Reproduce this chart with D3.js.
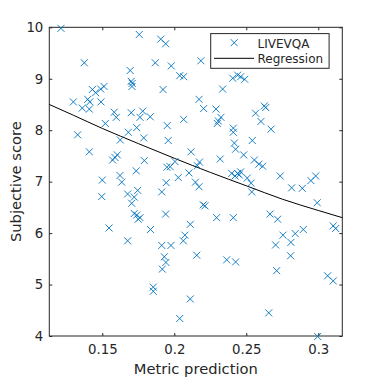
<!DOCTYPE html>
<html>
<head>
<meta charset="utf-8">
<script src="https://cdn.jsdelivr.net/npm/d3@7"></script>
<style>
  body { margin: 0; background: #fff; }
  text { font-family: "DejaVu Sans", sans-serif; fill: #262626; }
</style>
</head>
<body>
<div id="chart"></div>
<script>
// scatter values
var metricPred = [
  0.1213, 0.1757, 0.1906, 0.1940, 0.1375, 0.1868, 0.1979, 0.2185, 0.1694, 0.2038,
  0.2065, 0.1701, 0.1708, 0.1706, 0.1431, 0.1454, 0.1489, 0.1512, 0.1922, 0.1299,
  0.1399, 0.1413, 0.1491, 0.2172, 0.1361, 0.1410, 0.1583, 0.1597, 0.1701, 0.1781,
  0.1762, 0.1833, 0.2065, 0.1521, 0.1739, 0.1951, 0.2204, 0.2406, 0.2440, 0.2461,
  0.2489, 0.2336, 0.2290, 0.2324, 0.2306, 0.2299, 0.2410, 0.2565, 0.2625, 0.2635,
  0.2602, 0.2672, 0.1329, 0.1410, 0.1625, 0.1681, 0.1788, 0.1958, 0.2116, 0.1604,
  0.1588, 0.1572, 0.1792, 0.1736, 0.1949, 0.1972, 0.2005, 0.2175, 0.2102, 0.2028,
  0.1500, 0.1623, 0.1635, 0.1944, 0.2147, 0.2172, 0.1496, 0.1676, 0.1722, 0.1746,
  0.1704, 0.1913, 0.1722, 0.1739, 0.1750, 0.1762, 0.1940, 0.1547, 0.1835, 0.2111,
  0.2074, 0.2410, 0.2417, 0.2542, 0.2426, 0.2482, 0.2319, 0.2161, 0.2556, 0.2588,
  0.2614, 0.2399, 0.2422, 0.2440, 0.2461, 0.2451, 0.2507, 0.2533, 0.2538, 0.2736,
  0.2815, 0.2889, 0.2949, 0.2982, 0.2213, 0.2201, 0.2993, 0.2294, 0.2410, 0.2665,
  0.2718, 0.2755, 0.2840, 0.2896, 0.3104, 0.3121, 0.1676, 0.1913, 0.1977, 0.2063,
  0.2156, 0.1931, 0.1942, 0.1917, 0.1854, 0.1854, 0.2111, 0.2038, 0.2364, 0.2426,
  0.2704, 0.2810, 0.2808, 0.2711, 0.3065, 0.3104, 0.2656, 0.2996
];
var subjScore = [
  9.98, 9.86, 9.77, 9.68, 9.31, 9.31, 9.25, 9.35, 9.16, 9.06,
  9.04, 8.95, 8.91, 8.85, 8.79, 8.73, 8.80, 8.85, 8.79, 8.55,
  8.60, 8.55, 8.55, 8.60, 8.43, 8.41, 8.35, 8.25, 8.34, 8.37,
  8.25, 8.26, 8.21, 8.13, 8.05, 8.09, 8.42, 9.01, 9.07, 9.04,
  8.99, 8.80, 8.41, 8.25, 8.18, 8.13, 8.04, 8.33, 8.47, 8.44,
  8.17, 8.02, 7.91, 7.58, 7.81, 7.96, 7.85, 7.80, 7.58, 7.52,
  7.47, 7.42, 7.41, 7.21, 7.28, 7.29, 7.39, 7.38, 7.17, 7.08,
  7.03, 7.12, 6.99, 6.98, 6.99, 6.90, 6.71, 6.76, 6.70, 6.83,
  6.58, 6.80, 6.38, 6.35, 6.27, 6.30, 6.37, 6.10, 6.07, 6.17,
  5.96, 7.96, 7.75, 7.80, 7.63, 7.52, 7.44, 7.31, 7.42, 7.34,
  7.30, 7.16, 7.11, 7.16, 7.19, 7.13, 7.07, 6.97, 6.80, 7.11,
  6.88, 6.87, 7.02, 7.11, 6.53, 6.55, 6.59, 6.30, 6.30, 6.37,
  6.27, 5.96, 5.99, 6.07, 6.14, 6.09, 5.85, 5.76, 5.76, 5.85,
  5.57, 5.54, 5.43, 5.30, 4.95, 4.87, 4.72, 4.34, 5.48, 5.44,
  5.77, 5.82, 5.56, 5.27, 5.17, 5.07, 4.45, 3.99
];

// fitted regression curve, sampled off the figure
var regX = [0.1132, 0.13, 0.15, 0.175, 0.2, 0.225, 0.25, 0.275, 0.3, 0.3167];
var regY = [8.50, 8.29, 8.035, 7.74, 7.455, 7.18, 6.92, 6.66, 6.44, 6.30];

var xTicks = [0.15, 0.2, 0.25, 0.3];
var xTickLabels = ["0.15", "0.2", "0.25", "0.3"];
var yTicks = [4, 5, 6, 7, 8, 9, 10];

var seriesNames = ["LIVEVQA", "Regression"];

function scatterChart() {

	var width = 378, height = 378;
	var left = 49.3, right = 342.3, top = 27.3, bottom = 336;
	var axisColor = "#262626";
	var blue = "#0072BD";

	var svg = d3.select("#chart").append("svg")
		.attr("width", width).attr("height", height);

	svg.append("rect").attr("width", width).attr("height", height).attr("fill", "#fff");

	var x = d3.scaleLinear().domain([0.1132, 0.3167]).range([left, right]);
	var y = d3.scaleLinear().domain([4, 10]).range([bottom, top]);

	var points = metricPred.map(function(d, i) { return [d, subjScore[i]]; });
	var reg = regX.map(function(d, i) { return [d, regY[i]]; });

	// axes (ticks pointing inwards, mirrored on top / right)
	var xAxis = svg.append("g").attr("transform", "translate(0," + bottom + ")")
		.call(d3.axisBottom(x).tickValues(xTicks)
			.tickFormat(function(d, i) { return xTickLabels[i]; })
			.tickSizeInner(-3).tickSizeOuter(0).tickPadding(9));
	var yAxis = svg.append("g").attr("transform", "translate(" + left + ",0)")
		.call(d3.axisLeft(y).tickValues(yTicks).tickFormat(d3.format("d"))
			.tickSizeInner(-3).tickSizeOuter(0).tickPadding(6));
	var xTop = svg.append("g").attr("transform", "translate(0," + top + ")")
		.call(d3.axisTop(x).tickValues(xTicks).tickFormat("").tickSizeInner(-3).tickSizeOuter(0));
	var yRight = svg.append("g").attr("transform", "translate(" + right + ",0)")
		.call(d3.axisRight(y).tickValues(yTicks).tickFormat("").tickSizeInner(-3).tickSizeOuter(0));

	[xAxis, yAxis, xTop, yRight].forEach(function(g) {
		g.select(".domain").remove();
		g.selectAll("line").attr("stroke", axisColor);
		g.selectAll("text").attr("fill", axisColor)
			.style("font-family", "DejaVu Sans, sans-serif").style("font-size", "13.3px");
	});

	svg.append("rect")
		.attr("x", left).attr("y", top)
		.attr("width", right - left).attr("height", bottom - top)
		.attr("fill", "none").attr("stroke", axisColor).attr("stroke-width", 1);

	// regression line
	var line = d3.line()
		.x(function(d) { return x(d[0]); })
		.y(function(d) { return y(d[1]); })
		.curve(d3.curveMonotoneX);

	svg.append("path").datum(reg)
		.attr("d", line)
		.attr("fill", "none").attr("stroke", "#000").attr("stroke-width", 1);

	// x markers
	var s = 3.5;
	var cross = "M" + (-s) + "," + (-s) + "L" + s + "," + s + "M" + (-s) + "," + s + "L" + s + "," + (-s);

	svg.append("g").selectAll("path")
		.data(points)
		.enter().append("path")
		.attr("transform", function(d) { return "translate(" + x(d[0]) + "," + y(d[1]) + ")"; })
		.attr("d", cross)
		.attr("fill", "none").attr("stroke", blue).attr("stroke-width", 0.9);

	// axis labels
	svg.append("text")
		.attr("x", (left + right) / 2).attr("y", 374)
		.attr("text-anchor", "middle").style("font-size", "14.7px")
		.text("Metric prediction");

	svg.append("text")
		.attr("transform", "translate(20.5," + ((top + bottom) / 2) + ") rotate(-90)")
		.attr("text-anchor", "middle").style("font-size", "14.7px")
		.text("Subjective score");

	// legend
	var lg = svg.append("g");
	lg.append("rect")
		.attr("x", 210.7).attr("y", 33.6).attr("width", 118.4).attr("height", 34.7)
		.attr("fill", "#fff").attr("stroke", axisColor).attr("stroke-width", 1);

	lg.append("path")
		.attr("transform", "translate(234.2,42.7)")
		.attr("d", cross)
		.attr("fill", "none").attr("stroke", blue).attr("stroke-width", 0.9);

	lg.append("line")
		.attr("x1", 214).attr("x2", 254).attr("y1", 58.3).attr("y2", 58.3)
		.attr("stroke", "#000").attr("stroke-width", 1);

	lg.selectAll(".lab").data(seriesNames)
		.enter().append("text")
		.attr("class", "lab")
		.attr("x", 257.5)
		.attr("y", function(d, i) { return 47.5 + i * 15.3; })
		.style("font-size", "12px")
		.text(function(d) { return d; });
}

scatterChart();
</script>
</body>
</html>
